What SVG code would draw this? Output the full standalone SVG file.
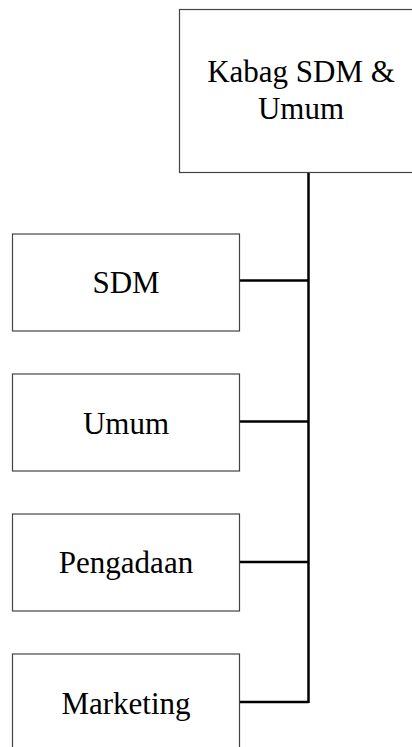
<svg xmlns="http://www.w3.org/2000/svg" width="412" height="747" viewBox="0 0 412 747">
<style>
.box{fill:#fff;stroke:#444;stroke-width:1.2}
.lbl{font-family:"Liberation Serif","Times New Roman",serif;font-size:31px;fill:#000;text-anchor:middle}
.con{stroke:#000;stroke-width:2.5;fill:none}
</style>
<rect width="412" height="747" fill="#fff"/>
<g id="connectors">
<path class="con" d="M308.5 173V703"/>
<path class="con" d="M240 280.5H308.5"/>
<path class="con" d="M240 421.5H308.5"/>
<path class="con" d="M240 562H308.5"/>
<path class="con" d="M240 702H308.5"/>
</g>
<g id="kabag">
<rect class="box" x="179.5" y="9.5" width="244" height="163"/>
<text class="lbl" x="301" y="82">Kabag SDM &amp;</text>
<text class="lbl" x="301" y="118.5">Umum</text>
</g>
<g id="sdm">
<rect class="box" x="12.5" y="234" width="227" height="97"/>
<text class="lbl" x="126" y="292.5">SDM</text>
</g>
<g id="umum">
<rect class="box" x="12.5" y="374" width="227" height="97"/>
<text class="lbl" x="126" y="433.5">Umum</text>
</g>
<g id="pengadaan">
<rect class="box" x="12.5" y="514" width="227" height="97"/>
<text class="lbl" x="126" y="572.5">Pengadaan</text>
</g>
<g id="marketing">
<rect class="box" x="12.5" y="654" width="227" height="97"/>
<text class="lbl" x="126" y="713.5">Marketing</text>
</g>
</svg>
